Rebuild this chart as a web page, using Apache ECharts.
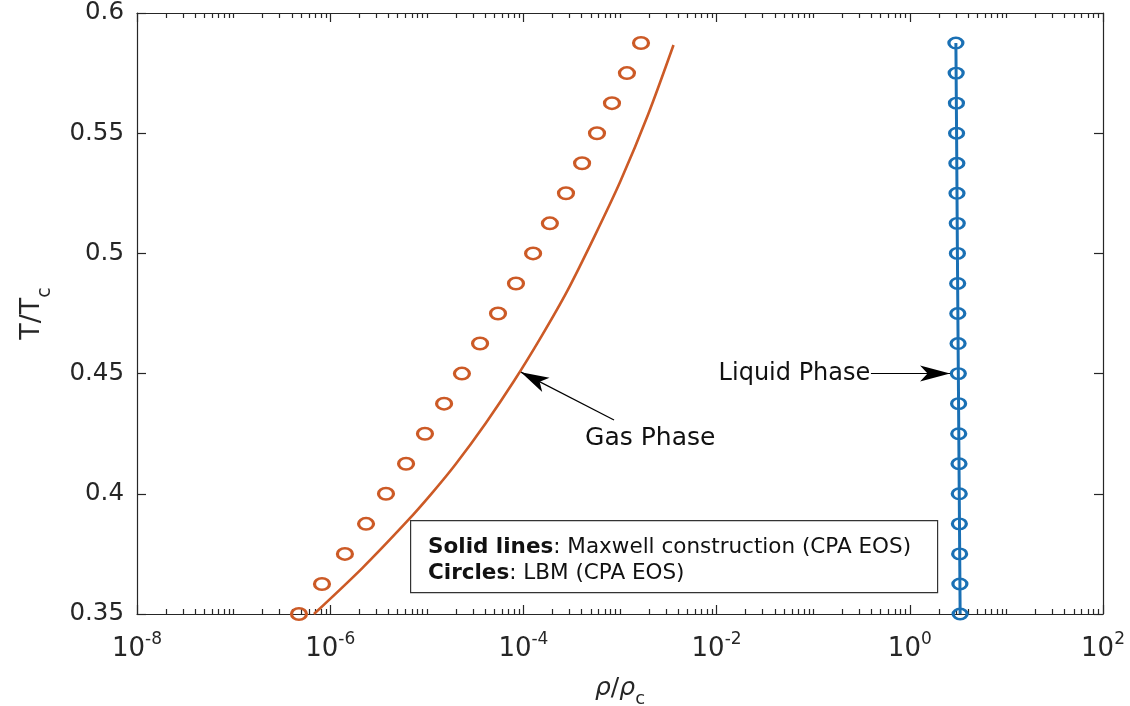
<!DOCTYPE html>
<html><head><meta charset="utf-8">
<script src="https://cdn.jsdelivr.net/npm/echarts@6/dist/echarts.min.js"></script>
<style>html,body{margin:0;padding:0;background:#fff}#c{width:1130px;height:706px}</style>
</head><body><div id="c"></div>
<script>
// ---------- data ----------
const lbmT = [0.35,0.3625,0.375,0.3875,0.4,0.4125,0.425,0.4375,0.45,0.4625,0.475,0.4875,0.5,0.5125,0.525,0.5375,0.55,0.5625,0.575,0.5875];
const lbmGasRho = [4.75e-7,8.22e-7,1.42e-6,2.35e-6,3.78e-6,6.10e-6,9.57e-6,1.51e-5,2.31e-5,3.56e-5,5.46e-5,8.38e-5,1.26e-4,1.88e-4,2.76e-4,4.05e-4,5.78e-4,8.26e-4,1.18e-3,1.65e-3];
const lbmLiquidRho = [3.32,3.30,3.28,3.26,3.25,3.23,3.21,3.20,3.18,3.16,3.14,3.13,3.11,3.10,3.08,3.07,3.05,3.04,3.02,3.00];
const maxwellGasT = [0.35,0.3691,0.3887,0.4003,0.4124,0.4295,0.4469,0.4656,0.4844,0.5072,0.5301,0.5580,0.5867];
const maxwellGasRho = [6.79e-7,2.149e-6,6.30e-6,1.132e-5,1.996e-5,4.09e-5,7.99e-5,1.543e-4,2.848e-4,5.46e-4,1.012e-3,1.963e-3,3.58e-3];
const maxwellLiquidT = [0.35,0.4,0.45,0.5,0.55,0.5875];
const maxwellLiquidRho = [3.32,3.25,3.18,3.11,3.05,3.00];
const xMajorTicks = [1e-8,1e-6,1e-4,1e-2,1,100];
const yTicks = [0.35,0.4,0.45,0.5,0.55,0.6];
// annotations: [rho, T]
const gasArrowFrom = [8.67e-4,0.4307], gasArrowTo = [9.44e-5,0.4506];
const gasLabelAt = [4.35e-4,0.4232];
const liqArrowFrom = [0.396,0.45], liqArrowTo = [2.61,0.45];
const liqLabelAt = [0.39,0.45];

// ---------- style ----------
const AX = '#262626', ORANGE = '#cc5a26', BLUE = '#1a70b4', FONT = 'DejaVu Sans';
const ELLIPSE = 'path://M0,6A7.5,6,0,1,0,15,6A7.5,6,0,1,0,0,6Z';
const xMinor = [];
for (let e = -8; e < 2; e++) for (let k = 1; k <= 9; k++) {
  const v = k * Math.pow(10, e);
  if (!(k === 1 && e % 2 === 0)) xMinor.push(v);
}
function xa(pos, major, showLine, showLabel) {
  const o = {
    type: 'log', logBase: 10, min: 1e-8, max: 100, position: pos, gridIndex: 0,
    axisLine: { show: showLine, onZero: false, lineStyle: { color: AX, width: 1.2 } },
    axisTick: { show: true, inside: true, length: major ? 9 : 5, customValues: major ? xMajorTicks : xMinor,
                lineStyle: { color: AX, width: 1.2 } },
    axisLabel: { show: showLabel },
    splitLine: { show: false }, minorTick: { show: false }, silent: true
  };
  if (showLabel) {
    o.axisLabel = {
      show: true, customValues: xMajorTicks, margin: 17, color: AX,
      formatter: v => '{b|10}{s|' + Math.round(Math.log10(v)) + '}',
      rich: { b: { fontFamily: FONT, fontSize: 26, lineHeight: 31, verticalAlign: 'bottom', color: AX },
              s: { fontFamily: FONT, fontSize: 17, lineHeight: 17, verticalAlign: 'top', color: AX } }
    };
    o.name = '{i|ρ}{n|/}{i|ρ}{c|c}';
    o.nameLocation = 'middle'; o.nameGap = 62;
    o.nameTextStyle = { rich: {
      i: { fontFamily: FONT, fontStyle: 'italic', fontSize: 25, lineHeight: 25, verticalAlign: 'top', color: AX },
      n: { fontFamily: FONT, fontSize: 25, lineHeight: 25, verticalAlign: 'top', color: AX },
      c: { fontFamily: FONT, fontSize: 18, lineHeight: 18, padding: [14,0,0,0], verticalAlign: 'top', color: AX } } };
  }
  return o;
}
const option = {
  animation: false,
  backgroundColor: '#fff',
  grid: { left: 137, right: 27, top: 13, bottom: 92, containLabel: false, outerBoundsMode: 'none' },
  xAxis: [ xa('bottom', true, true, true), xa('bottom', false, false, false), xa('top', true, true, false), xa('top', false, false, false) ],
  yAxis: [
    { type: 'value', min: 0.35, max: 0.6, interval: 0.05, position: 'left',
      axisLine: { show: true, onZero: false, lineStyle: { color: AX, width: 1.2 } },
      axisTick: { inside: true, length: 9, lineStyle: { color: AX, width: 1.2 } },
      axisLabel: { margin: 13, color: AX, fontFamily: FONT, fontSize: 24.5, formatter: v => String(+v.toFixed(2)) },
      splitLine: { show: false },
      name: '{b|T/T}{c|c}', nameLocation: 'middle', nameGap: 92,
      nameTextStyle: { rich: {
        b: { fontFamily: FONT, fontSize: 27, lineHeight: 27, verticalAlign: 'top', color: AX },
        c: { fontFamily: FONT, fontSize: 19, lineHeight: 19, padding: [18,0,0,0], verticalAlign: 'top', color: AX } } } },
    { type: 'value', min: 0.35, max: 0.6, interval: 0.05, position: 'right',
      axisLine: { show: true, onZero: false, lineStyle: { color: AX, width: 1.2 } },
      axisTick: { inside: true, length: 9, lineStyle: { color: AX, width: 1.2 } },
      axisLabel: { show: false }, splitLine: { show: false } }
  ],
  series: [
    { name: 'Maxwell gas', type: 'line', xAxisIndex: 0, yAxisIndex: 0, smooth: 0.3, showSymbol: false, silent: true,
      data: maxwellGasRho.map((r, i) => [r, maxwellGasT[i]]),
      lineStyle: { color: ORANGE, width: 2.6 }, itemStyle: { color: ORANGE },
      markLine: { silent: true, animation: false, symbol: ['none', 'arrow'],
        lineStyle: { color: '#000', width: 1.2, type: 'solid' }, label: { show: false },
        data: [
          [ { coord: gasArrowFrom, symbol: 'none' }, { coord: gasArrowTo, symbol: 'arrow', symbolSize: [12, 28] } ],
          [ { coord: liqArrowFrom, symbol: 'none' }, { coord: liqArrowTo, symbol: 'arrow', symbolSize: [12, 30] } ]
        ] },
      markPoint: { silent: true, symbol: 'circle', symbolSize: 0, animation: false,
        data: [
          { coord: gasLabelAt, label: { show: true, position: 'right', distance: 0, formatter: 'Gas Phase', fontFamily: FONT, fontSize: 25, color: '#111' } },
          { coord: liqLabelAt, label: { show: true, position: 'left', distance: 0, formatter: 'Liquid Phase', fontFamily: FONT, fontSize: 24, color: '#111' } }
        ] } },
    { name: 'LBM gas', type: 'scatter', xAxisIndex: 0, yAxisIndex: 0, silent: true,
      symbol: ELLIPSE, symbolSize: [15, 11.5],
      data: lbmGasRho.map((r, i) => [r, lbmT[i]]),
      itemStyle: { color: 'rgba(255,255,255,0)', borderColor: ORANGE, borderWidth: 2.8, opacity: 1 } },
    { name: 'Maxwell liquid', type: 'line', xAxisIndex: 0, yAxisIndex: 0, showSymbol: false, silent: true,
      data: maxwellLiquidRho.map((r, i) => [r, maxwellLiquidT[i]]),
      lineStyle: { color: BLUE, width: 3 }, itemStyle: { color: BLUE } },
    { name: 'LBM liquid', type: 'scatter', xAxisIndex: 0, yAxisIndex: 0, silent: true,
      symbol: ELLIPSE, symbolSize: [14, 10.5],
      data: lbmLiquidRho.map((r, i) => [r, lbmT[i]]),
      itemStyle: { color: 'rgba(255,255,255,0)', borderColor: BLUE, borderWidth: 2.8, opacity: 1 } }
  ],
  graphic: [
    { type: 'rect', left: 410, top: 520, silent: true, z: 10,
      shape: { width: 527, height: 72 }, style: { fill: '#fff', stroke: '#333', lineWidth: 1.2 } },
    { type: 'text', left: 428, top: 534, silent: true, z: 11,
      style: { text: '{b|Solid lines}: Maxwell construction (CPA EOS)\n{b|Circles}: LBM (CPA EOS)',
        fontFamily: FONT, fontSize: 21.5, lineHeight: 26, fill: '#111',
        rich: { b: { fontFamily: FONT, fontWeight: 'bold', fontSize: 21.5, lineHeight: 26, fill: '#111' } } } }
  ]
};
const chart = echarts.init(document.getElementById('c'), null, { renderer: 'canvas' });
chart.setOption(option);
</script></body></html>
